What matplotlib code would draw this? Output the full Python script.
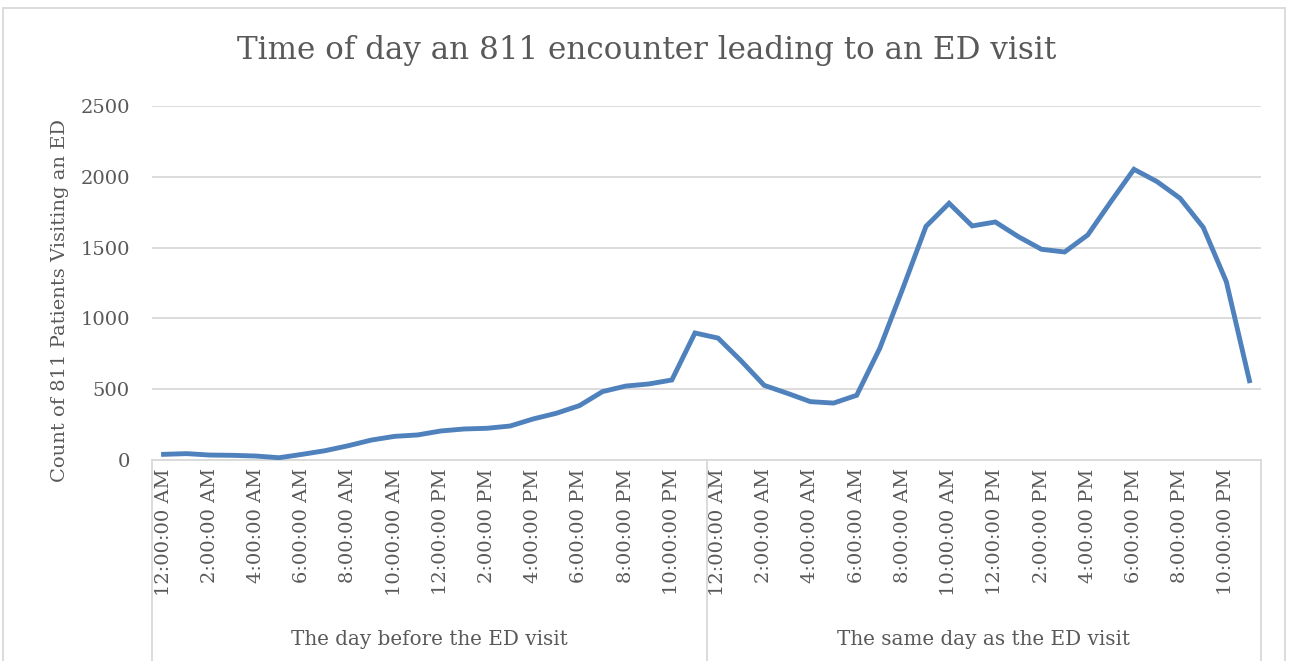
import matplotlib.pyplot as plt
from matplotlib.patches import Rectangle

plt.rcParams['font.family'] = ['DejaVu Serif']

# hourly counts, midnight to 11 PM
day_before = [40, 45, 35, 33, 28, 16, 40, 66, 101, 141, 167, 177,
              205, 219, 224, 240, 290, 330, 384, 483, 522, 537, 565, 897]
same_day = [861, 700, 527, 471, 412, 402, 457, 789, 1213, 1650, 1813, 1653,
            1681, 1577, 1488, 1469, 1589, 1824, 2053, 1966, 1848, 1643, 1259, 560]

time_labels = ["12:00:00 AM", "2:00:00 AM", "4:00:00 AM", "6:00:00 AM",
               "8:00:00 AM", "10:00:00 AM", "12:00:00 PM", "2:00:00 PM",
               "4:00:00 PM", "6:00:00 PM", "8:00:00 PM", "10:00:00 PM"]
day_labels = ["The day before the ED visit", "The same day as the ED visit"]

text_color = '#595959'
grid_color = '#d9d9d9'
line_color = '#4f81bd'

counts = day_before + same_day
n_day = len(day_before)
xs = list(range(len(counts)))

fig = plt.figure(figsize=(12.89, 6.61), dpi=100)
ax = fig.add_axes([152 / 1289, 1 - 460 / 661, (1261 - 152) / 1289, (460 - 106) / 661])

ax.plot(xs, counts, color=line_color, lw=3.5, solid_joinstyle='miter', zorder=3)

ax.set_xlim(-0.5, len(counts) - 0.5)
ax.set_ylim(0, 2500)
ax.set_yticks(range(0, 2501, 500))
ax.yaxis.grid(True, color=grid_color, lw=1.3)
ax.set_axisbelow(True)
for name, spine in ax.spines.items():
    spine.set_visible(name == 'bottom')
ax.spines['bottom'].set_color(grid_color)
ax.spines['bottom'].set_linewidth(1.3)

# two-level category axis: every second hour, grouped by day
tick_pos = [d * n_day + k * 2 for d in range(2) for k in range(len(time_labels))]
ax.set_xticks(tick_pos)
ax.set_xticklabels(time_labels * 2, rotation=90, va='top', ha='center')
ax.tick_params(axis='both', length=0, labelsize=14, labelcolor=text_color)
ax.tick_params(axis='x', pad=6)
ax.tick_params(axis='y', pad=16)

trans = ax.get_xaxis_transform()
for b in [-0.5, n_day - 0.5, 2 * n_day - 0.5]:
    ax.plot([b, b], [0, -0.6], transform=trans, clip_on=False,
            color=grid_color, lw=1.3)
for d, label in enumerate(day_labels):
    ax.text(d * n_day + (n_day - 1) / 2, -0.508, label, transform=trans,
            ha='center', va='center', fontsize=14.3, color=text_color)

ax.set_ylabel("Count of 811 Patients Visiting an ED", fontsize=14, color=text_color)
ax.yaxis.set_label_coords(-0.075, 0.45)

fig.text(0.5016, 1 - 51 / 661, "Time of day an 811 encounter leading to an ED visit",
         ha='center', va='center', fontsize=22.3, color=text_color)

# chart area border
fig.patches.append(Rectangle((3 / 1289, -0.1), (1285 - 3) / 1289, 1.1 - 8 / 661,
                             transform=fig.transFigure, fill=False,
                             ec=grid_color, lw=1.3))

fig.savefig("out.png", dpi=100)
